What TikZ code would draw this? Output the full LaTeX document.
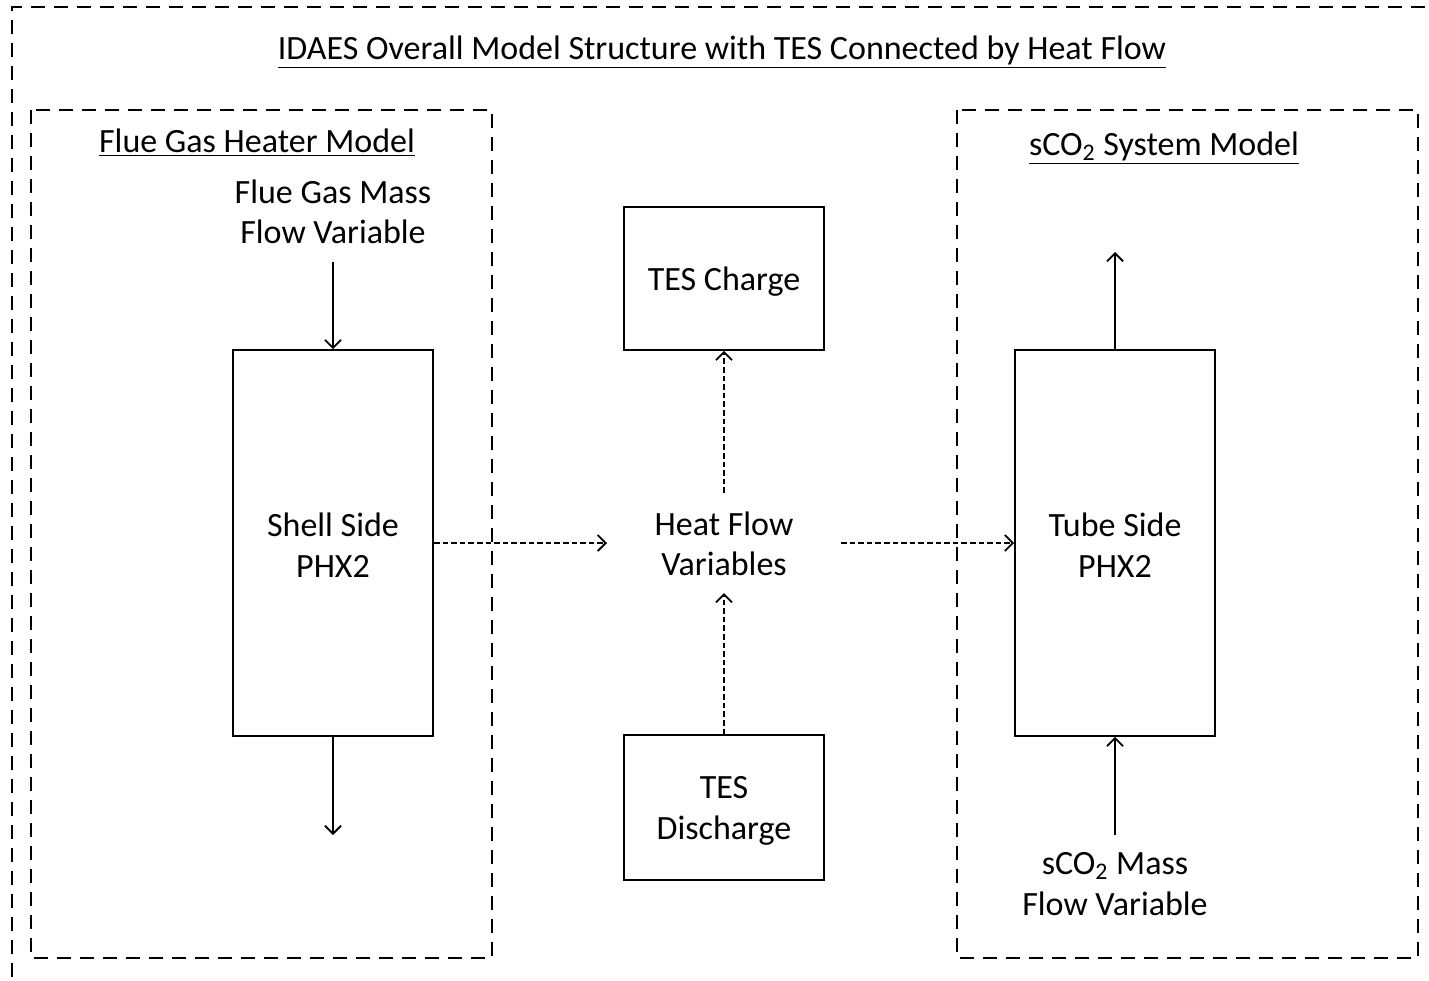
\documentclass[tikz,border=0pt]{standalone}
\usepackage{fontspec}
\setmainfont{Carlito}
\usetikzlibrary{arrows.meta}
\begin{document}
\begin{tikzpicture}[x=0.5pt,y=-0.5pt,
  every node/.style={font=\fontsize{17pt}{20.3pt}\selectfont, inner sep=0pt, align=center},
  frame/.style={draw, line width=1pt, dash pattern=on 7pt off 4.5pt},
  unit/.style={draw, line width=0.9pt, minimum width=100pt},
  flow/.style={draw, line width=0.9pt, -{Straight Barb[length=4pt,width=8pt]}},
  heat/.style={flow, dash pattern=on 2.8pt off 1.5pt}]
\useasboundingbox (0,0) rectangle (1429,980);
\clip (0,0) rectangle (1429,980);

% outer model frame and the two sub-model frames
\draw[frame] (12,1000) -- (12,7) -- (1460,7);
\draw[frame] (31,110) rectangle (492,958);
\draw[frame] (957,110) rectangle (1418,958);

% titles
\node (title) at (722,52) {\underline{IDAES Overall Model Structure with TES Connected by Heat Flow}};
\node (fgtitle) at (257,143) {\underline{Flue Gas Heater Model}};
\node (sctitle) at (1164,148) {\underline{sCO\textsubscript{2} System Model}};

% flue gas side
\node (fgin) at (333,212) {Flue Gas Mass\\Flow Variable};
\coordinate (fgtop) at (333,262);
\node[unit, minimum height=193pt] (shell) at (333,543) {};
\node (shelltext) at (333,545) {Shell Side\\PHX2};
\coordinate (fgout) at (333,835);

% thermal storage and heat flow
\node[unit, minimum height=71.5pt] (charge) at (724,278.5) {};
\node (chargetext) at (724,282) {TES Charge};
\node (heat) at (724,544) {Heat Flow\\Variables};
\node[unit, minimum height=72.5pt] (discharge) at (724,807.5) {};
\node (dischargetext) at (724,811) {TES\\Discharge};

% sCO2 side
\node[unit, minimum height=193pt] (tube) at (1115,543) {};
\node (tubetext) at (1115,545) {Tube Side\\PHX2};
\coordinate (scout) at (1115,252);
\node (scin) at (1115,884) {sCO\textsubscript{2} Mass\\Flow Variable};
\coordinate (scbot) at (1115,835);

% connectors
\draw[flow] (fgtop) -- (shell.north);
\draw[flow] (shell.south) -- (fgout);
\draw[flow] (tube.north) -- (scout);
\draw[flow] (scbot) -- (tube.south);
\draw[heat] (shell.east) -- (607,543);
\draw[heat] (841,543) -- (tube.west);
\draw[heat] (724,493) -- (charge.south);
\draw[heat] (discharge.north) -- (724,593);
\end{tikzpicture}
\end{document}
